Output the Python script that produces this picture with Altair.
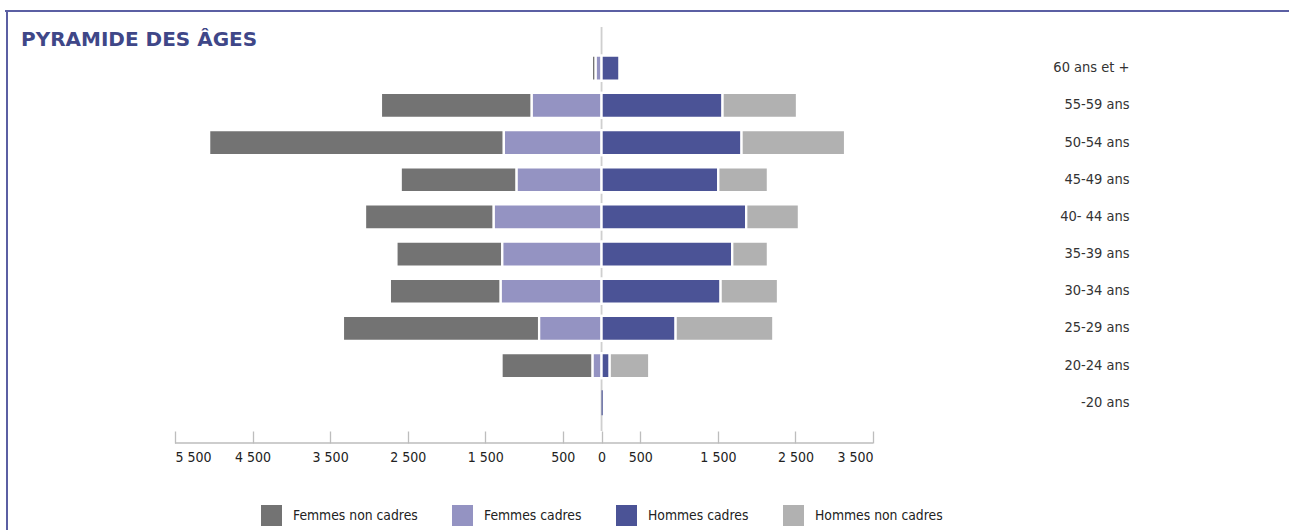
import altair as alt
import pandas as pd

# Age groups, top to bottom
ages = ["60 ans et +", "55-59 ans", "50-54 ans", "45-49 ans", "40- 44 ans",
        "35-39 ans", "30-34 ans", "25-29 ans", "20-24 ans", "-20 ans"]

# Headcounts per age group
femmes_non_cadres = [50, 1945, 3800, 1495, 1660, 1365, 1430, 2530, 1175, 0]
femmes_cadres = [75, 900, 1260, 1095, 1390, 1280, 1300, 805, 115, 0]
hommes_cadres = [230, 1560, 1805, 1505, 1865, 1685, 1535, 955, 105, 15]
hommes_non_cadres = [0, 960, 1335, 640, 680, 460, 740, 1260, 510, 0]

groupes = ["Femmes non cadres", "Femmes cadres", "Hommes cadres", "Hommes non cadres"]
couleurs = ["#737373", "#9493c2", "#4b5396", "#b1b1b1"]

ticks = [-5500, -4500, -3500, -2500, -1500, -500, 0, 500, 1500, 2500, 3500]

# Long table: women on the negative side, men on the positive side.
# "rang" puts the cadres next to the centre line on both sides.
series = [
    ("Femmes non cadres", femmes_non_cadres, -1, 2),
    ("Femmes cadres", femmes_cadres, -1, 1),
    ("Hommes cadres", hommes_cadres, 1, 1),
    ("Hommes non cadres", hommes_non_cadres, 1, 2),
]
rows = []
for nom, valeurs, signe, rang in series:
    for age, v in zip(ages, valeurs):
        rows.append({"age": age, "groupe": nom, "effectif": signe * v, "rang": rang})
df = pd.DataFrame(rows)

W, H = 698, 404
FONT = "Liberation Sans Narrow, DejaVu Sans Condensed, Roboto Condensed, Arial Narrow, sans-serif"

x_scale = alt.Scale(domain=[-5500, 3500], nice=False, zero=False)

bars = alt.Chart(df).mark_bar(stroke="white").encode(
    x=alt.X("effectif:Q", stack="zero", scale=x_scale, title=None,
            axis=alt.Axis(values=ticks, grid=False, domain=False, tickSize=12,
                          tickColor="#bdbdbd", tickWidth=1.3, labelPadding=7,
                          labelFont=FONT, labelFontSize=14, labelColor="#222222",
                          labelExpr="replace(format(abs(datum.value), ','), ',', ' ')")),
    y=alt.Y("age:N", sort=ages, title=None,
            scale=alt.Scale(paddingInner=0.327, paddingOuter=0.598, align=0.646, round=False),
            axis=alt.Axis(orient="right", ticks=False, domain=False, labelAlign="right",
                          labelPadding=256, labelFont=FONT, labelFontSize=14.5,
                          labelColor="#333333", labelBaseline="middle")),
    color=alt.Color("groupe:N", sort=groupes,
                    scale=alt.Scale(domain=groupes, range=couleurs),
                    legend=alt.Legend(orient="none", legendX=86, legendY=478,
                                      direction="horizontal", title=None,
                                      symbolType="square", symbolSize=441,
                                      symbolStrokeWidth=0, labelOffset=11,
                                      columnPadding=34, labelFont=FONT,
                                      labelFontSize=13.8, labelColor="#222222")),
    order=alt.Order("rang:Q"),
    strokeWidth=alt.condition("abs(datum.effectif) < 30", alt.value(0), alt.value(2.3)),
)

# Centre line at zero
centre = alt.Chart(pd.DataFrame({"zero": [0]})).mark_rule(
    color="#cfcfcf", strokeWidth=1.8
).encode(x=alt.X("zero:Q", scale=x_scale, title=None))

# Axis baseline running from the first to the last tick
base = alt.Chart(pd.DataFrame({"debut": [ticks[0]], "fin": [ticks[-1]]})).mark_rule(
    color="#bdbdbd", strokeWidth=1.3
).encode(x=alt.X("debut:Q", scale=x_scale, title=None), x2="fin:Q", y=alt.value(H + 12))

# Frame along the top and left edges
cadre_haut = alt.Chart(pd.DataFrame({"k": [0]})).mark_rule(
    color="#5b5fa3", strokeWidth=2
).encode(x=alt.value(-170), x2=alt.value(1114), y=alt.value(-16))
cadre_gauche = alt.Chart(pd.DataFrame({"k": [0]})).mark_rule(
    color="#5b5fa3", strokeWidth=2
).encode(x=alt.value(-168), y=alt.value(-17), y2=alt.value(H + 99))

titre = alt.Chart(pd.DataFrame({"k": [0]})).mark_text(
    text="PYRAMIDE DES ÂGES", align="left", baseline="alphabetic",
    font="DejaVu Sans", fontSize=20, fontWeight="bold", color="#3f4788"
).encode(x=alt.value(-154), y=alt.value(19))

chart = alt.layer(cadre_haut, cadre_gauche, centre, bars, base, titre).properties(
    width=W, height=H,
    autosize=alt.AutoSizeParams(type="none"),
    padding={"left": 175, "top": 27, "right": 1289 - 175 - W, "bottom": 530 - 27 - H},
    background="white",
).configure_view(stroke=None)

chart.save("out.html", embed_options={"renderer": "svg", "actions": False})
